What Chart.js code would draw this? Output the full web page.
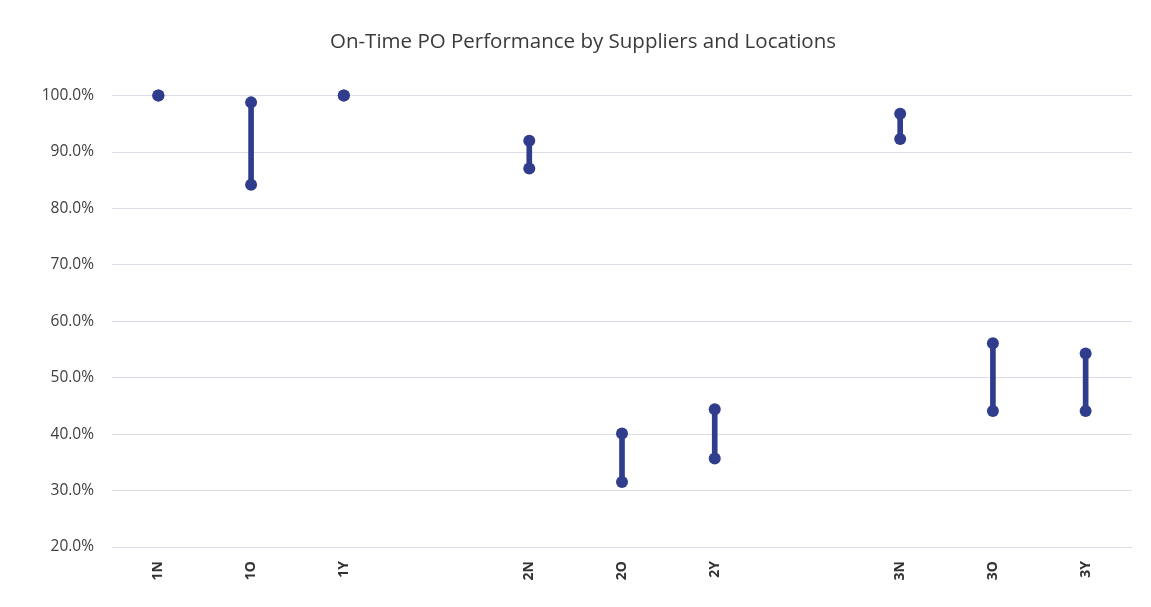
<!DOCTYPE html>
<html>
<head>
<meta charset="utf-8">
<title>On-Time PO Performance</title>
<script src="https://cdn.jsdelivr.net/npm/chart.js@4"></script>
<style>
  html, body { margin: 0; padding: 0; background: #fff; }
  #wrap { width: 1151px; height: 607px; }
</style>
</head>
<body>
<div id="wrap"><canvas id="poChart" width="1151" height="607"></canvas></div>
<script>
// ---------------- DATA ----------------

const categories = ['1N', '1O', '1Y', '', '2N', '2O', '2Y', '', '3N', '3O', '3Y'];
const lowVals  = [100.0, 84.2, 100.0, null, 87.1, 31.5, 35.7, null, 92.3, 44.1, 44.1];
const highVals = [100.0, 98.8, 100.0, null, 92.0, 40.1, 44.4, null, 96.8, 56.1, 54.3];
const yTicks   = [20, 30, 40, 50, 60, 70, 80, 90, 100];

const navy = '#2f3d8c';

// floating bar = the line between low and high
const ranges = categories.map((c, i) =>
  lowVals[i] === null ? null : [lowVals[i], highVals[i]]
);

// -------- CHART --------

const ctx = document.getElementById('poChart');

new Chart(ctx, {
  type: 'bar',
  data: {
    labels: categories,
    datasets: [
      {
        type: 'bar',
        data: ranges,
        backgroundColor: navy,
        barThickness: 5,
        borderSkipped: false,
        order: 2
      },
      {
        type: 'line',
        data: highVals,
        showLine: false,
        pointRadius: 6,
        pointBackgroundColor: navy,
        pointBorderWidth: 0,
        clip: false,
        order: 1
      },
      {
        type: 'line',
        data: lowVals,
        showLine: false,
        pointRadius: 6,
        pointBackgroundColor: navy,
        pointBorderWidth: 0,
        clip: false,
        order: 1
      }
    ]
  },
  options: {
    responsive: false,
    animation: false,
    layout: { padding: { left: 34, right: 19, top: 0, bottom: 0 } },
    plugins: {
      legend: { display: false },
      tooltip: { enabled: false },
      title: {
        display: true,
        text: 'On-Time PO Performance by Suppliers and Locations',
        color: '#3a3a3a',
        font: { family: 'Open Sans', size: 20.5, weight: 'normal' },
        padding: { top: 30, bottom: 41 }
      }
    },
    scales: {
      x: {
        grid: { display: false },
        border: { display: false },
        ticks: {
          color: '#333333',
          font: { family: 'Open Sans', size: 14, weight: 'bold' },
          minRotation: 90,
          maxRotation: 90,
          padding: 6
        },
        afterFit: s => { s.height = 60; }
      },
      y: {
        min: 20,
        max: 100,
        afterBuildTicks: s => { s.ticks = yTicks.map(v => ({ value: v })); },
        grid: { color: '#dcdde8', lineWidth: 1, drawTicks: false },
        border: { display: false },
        ticks: {
          color: '#404040',
          font: { family: 'Open Sans', size: 15.5 },
          padding: 18,
          callback: v => v.toFixed(1) + '%'
        },
        afterFit: s => { s.width = 78; }
      }
    }
  }
});
</script>
</body>
</html>
